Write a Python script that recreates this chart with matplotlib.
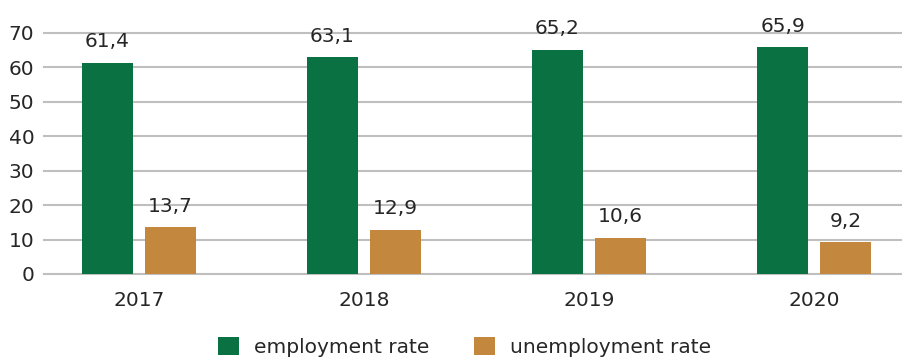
import numpy as np
import matplotlib.pyplot as plt

# data
years = ['2017', '2018', '2019', '2020']
employment = [61.4, 63.1, 65.2, 65.9]
unemployment = [13.7, 12.9, 10.6, 9.2]

green = '#0a7142'
orange = '#c4873e'
txt = '#262626'

plt.rcParams['font.family'] = ['DejaVu Sans']

fig = plt.figure(figsize=(9.02, 3.61), dpi=100)
ax = fig.add_axes([0.049, 0.241, 0.951, 0.6676])

x = np.arange(len(years))
w = 0.227
off = 0.14
b1 = ax.bar(x - off, employment, w, color=green, label='employment rate', zorder=3)
b2 = ax.bar(x + off, unemployment, w, color=orange, label='unemployment rate', zorder=3)

fmt = lambda vals: [f'{v:.1f}'.replace('.', ',') for v in vals]
ax.bar_label(b1, labels=fmt(employment), padding=8, fontsize=14.5, color=txt)
ax.bar_label(b2, labels=fmt(unemployment), padding=8, fontsize=14.5, color=txt)

ax.set_ylim(0, 70)
ax.set_yticks(range(0, 71, 10))
ax.set_xlim(-0.42, 3.39)
ax.set_xticks(x)
ax.set_xticklabels(years)
ax.tick_params(axis='both', length=0, labelsize=14.5, colors=txt)
ax.tick_params(axis='x', pad=12)
ax.tick_params(axis='y', pad=7)
ax.yaxis.grid(True, color='#bfbfbf', linewidth=1.5, zorder=0)
for gl in ax.get_ygridlines():
    gl.set_clip_on(False)
ax.set_axisbelow(True)
for s in ax.spines.values():
    s.set_visible(False)

fig.legend(loc='center', bbox_to_anchor=(0.515, 0.039), ncol=2, frameon=False,
           fontsize=14.5, handlelength=1.05, handleheight=1.05, handletextpad=0.75,
           columnspacing=2.2, labelcolor=txt)

fig.savefig('out.png', dpi=100)
